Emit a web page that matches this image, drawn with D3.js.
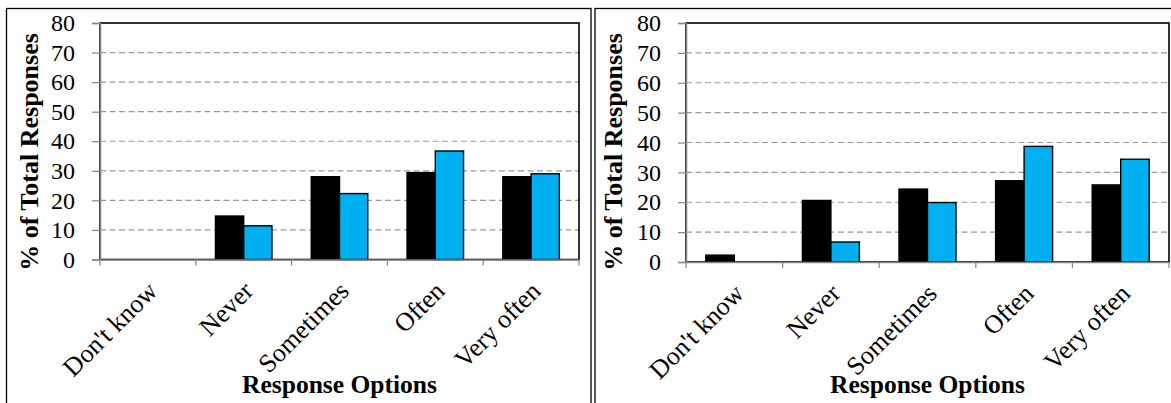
<!DOCTYPE html>
<html>
<head>
<meta charset="utf-8">
<script src="https://cdn.jsdelivr.net/npm/d3@7"></script>
<style>
  html, body { margin: 0; padding: 0; background: #fff; }
  svg { display: block; }
  text { font-family: "Liberation Serif", "Times New Roman", serif; fill: #000; }
</style>
</head>
<body>
<svg id="chart" width="1171" height="403"></svg>
<script>
// ---- data ----
const categories = ["Don't know", "Never", "Sometimes", "Often", "Very often"];
const leftBlack  = [0, 14.7, 28.0, 29.4, 28.0];
const leftBlue   = [0, 11.4, 22.3, 36.7, 29.0];
const rightBlack = [2.3, 20.6, 24.4, 27.2, 25.8];
const rightBlue  = [0, 6.7, 19.9, 38.7, 34.4];
const yTicks = [0, 10, 20, 30, 40, 50, 60, 70, 80];
const yTitle = "% of Total Responses";
const xTitle = "Response Options";
const seriesColors = ["#000000", "#00b0f0"];

// ---- layout ----
const panels = [
  { frame: [6.5, 8.5, 584.5, 420], plot: { left: 100, right: 579, top: 23, bottom: 259.5 },
    black: leftBlack, blue: leftBlue, yTitleX: 38 },
  { frame: [595, 8.5, 600, 420], plot: { left: 686, right: 1169, top: 23, bottom: 262 },
    black: rightBlack, blue: rightBlue, yTitleX: 622 }
];

const svg = d3.select("#chart");

panels.forEach(p => {
  const g = svg.append("g");
  // outer frame
  g.append("rect")
    .attr("x", p.frame[0]).attr("y", p.frame[1])
    .attr("width", p.frame[2]).attr("height", p.frame[3])
    .attr("fill", "#fff").attr("stroke", "#000").attr("stroke-width", 1.3);

  const x = d3.scaleBand().domain(categories).range([p.plot.left, p.plot.right]).padding(0);
  const y = d3.scaleLinear().domain([0, 80]).range([p.plot.bottom, p.plot.top]);
  const bw = x.bandwidth() * 0.295;

  // gridlines
  g.append("g").selectAll("line")
    .data(yTicks.filter(t => t > 0 && t < 80))
    .join("line")
    .attr("x1", p.plot.left).attr("x2", p.plot.right)
    .attr("y1", d => y(d)).attr("y2", d => y(d))
    .attr("stroke", "#9a9a9a").attr("stroke-width", 1.2)
    .attr("stroke-dasharray", "6,3.5");

  // plot area border
  g.append("rect")
    .attr("x", p.plot.left).attr("y", p.plot.top)
    .attr("width", p.plot.right - p.plot.left).attr("height", p.plot.bottom - p.plot.top)
    .attr("fill", "none").attr("stroke", "#000").attr("stroke-width", 1.6);

  // bars
  const rows = categories.map((c, i) => ({ c, v: [p.black[i], p.blue[i]] }));
  rows.forEach(r => {
    r.v.forEach((v, k) => {
      if (v <= 0) return;
      const cx = x(r.c) + x.bandwidth() / 2;
      g.append("rect")
        .attr("x", cx - bw + k * bw).attr("y", y(v))
        .attr("width", bw).attr("height", y(0) - y(v))
        .attr("fill", seriesColors[k]).attr("stroke", "#000").attr("stroke-width", 1.4);
    });
  });

  // y axis
  const yAxis = d3.axisLeft(y).tickValues(yTicks).tickSize(8).tickPadding(17).tickFormat(d3.format("d"));
  const ya = g.append("g").attr("transform", `translate(${p.plot.left},0)`).call(yAxis);
  ya.attr("font-family", null);
  ya.select(".domain").attr("stroke", "#858585").attr("stroke-width", 1.5);
  ya.selectAll(".tick line").attr("stroke", "#858585").attr("stroke-width", 1.2);
  ya.selectAll(".tick text").attr("font-size", 24).attr("fill", "#000");

  // x axis
  const xAxis = d3.axisBottom(x).tickSize(0).tickFormat("");
  const xa = g.append("g").attr("transform", `translate(0,${p.plot.bottom})`).call(xAxis);
  xa.select(".domain").attr("stroke", "#858585").attr("stroke-width", 1.5);
  const bounds = categories.map(c => x(c)).concat([p.plot.right]);
  g.append("g").selectAll("line").data(bounds).join("line")
    .attr("x1", d => d).attr("x2", d => d)
    .attr("y1", p.plot.bottom).attr("y2", p.plot.bottom + 6)
    .attr("stroke", "#858585").attr("stroke-width", 1.2);

  // rotated category labels
  g.append("g").selectAll("text").data(categories).join("text")
    .attr("transform", d => `translate(${x(d) + x.bandwidth() / 2 + 11},${p.plot.bottom + 33}) rotate(-45)`)
    .attr("text-anchor", "end")
    .attr("font-size", 26)
    .text(d => d);

  // axis titles
  g.append("text")
    .attr("transform", `translate(${p.yTitleX},152) rotate(-90)`)
    .attr("text-anchor", "middle")
    .attr("font-size", 26).attr("font-weight", "bold")
    .text(yTitle);

  g.append("text")
    .attr("x", (p.plot.left + p.plot.right) / 2).attr("y", 393)
    .attr("text-anchor", "middle")
    .attr("font-size", 25.5).attr("font-weight", "bold")
    .text(xTitle);
});
</script>
</body>
</html>
